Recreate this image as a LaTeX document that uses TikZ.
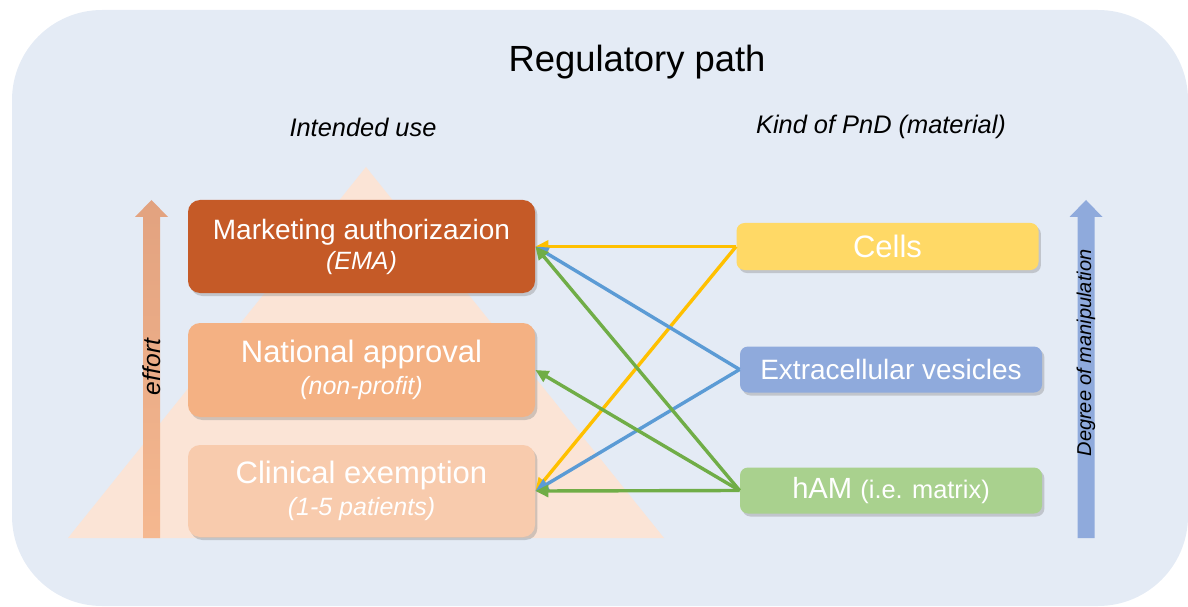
\documentclass[tikz,border=0pt]{standalone}
\usepackage{fontspec}
\setmainfont{Liberation Sans}
\usepackage{tikz}
\usetikzlibrary{shapes}
\usetikzlibrary{shadows,arrows.meta}
\usetikzlibrary{calc}
\usepackage{xcolor}
\definecolor{bgpanel}{HTML}{E4EBF5}
\definecolor{pyramid}{HTML}{FBE4D6}
\definecolor{cma}{HTML}{C55A27}
\definecolor{cna}{HTML}{F4B183}
\definecolor{cce}{HTML}{F8CBAD}
\definecolor{ccells}{HTML}{FFD966}
\definecolor{cev}{HTML}{8FAADC}
\definecolor{cham}{HTML}{A9D18E}
\definecolor{effortTop}{HTML}{E2A27F}
\definecolor{effortBot}{HTML}{F5B890}
\definecolor{cyel}{HTML}{FFC000}
\definecolor{cblu}{HTML}{5B9BD5}
\definecolor{cgrn}{HTML}{70AD47}
\tikzstyle{boxshadow}=[drop shadow={shadow xshift=1.2pt, shadow yshift=-1.5pt, opacity=0.35}]
\tikzstyle{lvl}=[rounded corners=6pt, minimum width=173.5pt, text=white, align=center, boxshadow]
\tikzstyle{mat}=[rounded corners=4pt, minimum width=151pt, minimum height=23pt, text=white, align=center, boxshadow]
\tikzstyle{link}=[line width=1.7pt, -{Triangle[length=6.5pt,width=6pt]}]
\tikzstyle{head}=[font=\fontsize{12.7}{14}\selectfont\itshape]
\newcommand{\shaft}{8.5}
\newcommand{\headw}{16.5}
\newcommand{\bigarrow}[1]{(#1-\shaft,68) -- (#1-\shaft,389) -- (#1-\headw,389) -- (#1,406)
  -- (#1+\headw,389) -- (#1+\shaft,389) -- (#1+\shaft,68) -- cycle}

\begin{document}
\begin{tikzpicture}[x=0.5pt,y=0.5pt]
\useasboundingbox (0,0) rectangle (1188,606);
\fill[bgpanel, rounded corners=45pt] (12,0) rectangle (1188,596);
\node[font=\fontsize{18.2}{20}\selectfont] (title) at (637,544) {Regulatory path};
\node[head] (intended) at (363,479) {Intended use};
\node[head] (kind) at (881,479) {Kind of PnD (material)};
\fill[pyramid] (366,439) -- (68,68) -- (664,68) -- cycle;
\shade[top color=effortTop, bottom color=effortBot] \bigarrow{151.5};
\node[rotate=90, font=\fontsize{12.3}{14}\selectfont\itshape] (effort) at (152,239) {effort};
\fill[cev] \bigarrow{1086};
\node[rotate=90, font=\fontsize{10}{12}\selectfont\itshape] (degree) at (1086,253) {Degree of manipulation};
\node[lvl, fill=cma, minimum height=46.5pt, font=\fontsize{14}{15}\selectfont] (ma) at (361.5,359.5)
  {Marketing authorizazion\\{\fontsize{12.5}{15}\selectfont\itshape (EMA)}};
\node[lvl, fill=cna, minimum height=47pt, font=\fontsize{15.5}{16}\selectfont] (na) at (361.5,236)
  {National approval\\{\fontsize{12.5}{16}\selectfont\itshape (non-profit)}};
\node[lvl, fill=cce, minimum height=46pt, font=\fontsize{15.5}{16}\selectfont] (ce) at (361.5,115)
  {Clinical exemption\\{\fontsize{12.5}{16}\selectfont\itshape (1-5 patients)}};
\node[mat, fill=ccells, minimum height=23.5pt, font=\fontsize{15.5}{17}\selectfont] (cells) at (887.5,359.5) {Cells};
\node[mat, fill=cev, font=\fontsize{14}{16}\selectfont] (ev) at (891,236.5) {Extracellular vesicles};
\node[mat, fill=cham, font=\fontsize{14.6}{16}\selectfont] (ham) at (891,115.5)
  {hAM {\fontsize{12.7}{14}\selectfont (i.e. matrix)}};
\foreach \s/\t/\c in {cells/ma/cyel, cells/ce/cyel, ev/ma/cblu, ev/ce/cblu, ham/ma/cgrn, ham/na/cgrn, ham/ce/cgrn}
  \draw[link, \c] (\s.west) -- (\t.east);
\end{tikzpicture}
\end{document}
